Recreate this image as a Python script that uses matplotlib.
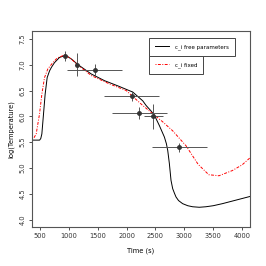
import matplotlib
matplotlib.use("Agg")
import matplotlib.pyplot as plt
from matplotlib.lines import Line2D

# observations with error bars
obs_t = [931, 1138, 1448, 2086, 2224, 2466, 2914]
obs_y = [7.17, 7.00, 6.90, 6.40, 6.07, 6.00, 5.40]
obs_xerr = [30, 30, 475, 480, 480, 170, 480]
obs_yerr = [0.09, 0.22, 0.11, 0.10, 0.12, 0.24, 0.09]

# fitted curve, c_i free parameters
free_t = [362, 440, 495, 515, 534, 563, 591, 626, 667, 700, 753, 839, 914, 960, 1046,
          1160, 1390, 1620, 1850, 2108, 2281, 2339, 2420, 2483, 2569, 2655, 2690, 2713,
          2741, 2770, 2799, 2830, 2856, 2900, 2971, 3060, 3144, 3259, 3374, 3500, 3660,
          3900, 4140]
free_y = [5.54, 5.54, 5.54, 5.57, 5.66, 6.05, 6.43, 6.75, 6.88, 6.95, 7.04, 7.14, 7.17,
          7.17, 7.11, 7.00, 6.82, 6.69, 6.59, 6.47, 6.30, 6.21, 6.11, 6.02, 5.82, 5.60,
          5.47, 5.34, 5.09, 4.76, 4.60, 4.51, 4.44, 4.37, 4.31, 4.27, 4.25, 4.24, 4.25,
          4.27, 4.31, 4.38, 4.45]

# fitted curve, c_i fixed
fixed_t = [362, 400, 436, 494, 534, 580, 638, 724, 800, 931, 1046, 1160, 1390, 1700,
           1994, 2281, 2454, 2620, 2799, 3030, 3240, 3424, 3600, 3830, 4000, 4140]
fixed_y = [5.56, 5.59, 5.66, 6.05, 6.43, 6.75, 6.92, 7.04, 7.13, 7.19, 7.11, 6.99,
           6.79, 6.63, 6.50, 6.21, 6.05, 5.90, 5.72, 5.43, 5.07, 4.87, 4.85, 4.95,
           5.06, 5.20]

fig = plt.figure(figsize=(2.66, 2.66), dpi=100)
ax = fig.add_axes([0.120, 0.147, 0.820, 0.736])

ax.plot(free_t, free_y, color="black", lw=0.7)
ax.plot(fixed_t, fixed_y, color="red", lw=0.7, linestyle=(0, (1, 1.5, 3, 1.5)))
ax.errorbar(obs_t, obs_y, xerr=obs_xerr, yerr=obs_yerr, fmt="o", ms=2.5,
            color="#333333", ecolor="#555555", elinewidth=0.7, capsize=0)

ax.set_xlim(362, 4138)
ax.set_ylim(3.86, 7.65)
ax.set_xticks([500, 1000, 1500, 2000, 2500, 3000, 3500, 4000])
ax.set_yticks([4.0, 4.5, 5.0, 5.5, 6.0, 6.5, 7.0, 7.5])
ax.set_yticklabels(["4.0", "4.5", "5.0", "5.5", "6.0", "6.5", "7.0", "7.5"],
                   rotation=90, va="center")
ax.tick_params(labelsize=4.8, length=2.5, width=0.6, pad=2, colors="#333333")
for s in ax.spines.values():
    s.set_linewidth(0.8)
    s.set_color("#555555")
ax.set_xlabel("Time (s)", fontsize=4.8, labelpad=6)
ax.set_ylabel("log(Temperature)", fontsize=4.8, labelpad=4)

h1 = [Line2D([], [], color="black", lw=0.7)]
h2 = [Line2D([], [], color="red", lw=0.7, linestyle=(0, (1, 1.5, 3, 1.5)))]
leg_kw = dict(fontsize=4.0, loc="upper left", fancybox=False, borderaxespad=0,
              handlelength=2.6, handletextpad=1.0, borderpad=1.05, framealpha=1)
l1 = ax.legend(h1, ["c_i free parameters"], bbox_to_anchor=(0.537, 0.964), **leg_kw)
l1.get_frame().set_edgecolor("#444444")
l1.get_frame().set_linewidth(0.7)
ax.add_artist(l1)
l2 = ax.legend(h2, ["c_i fixed"], bbox_to_anchor=(0.537, 0.872), **leg_kw)
l2.get_frame().set_edgecolor("#444444")
l2.get_frame().set_linewidth(0.7)

fig.savefig("out.png", dpi=100)
